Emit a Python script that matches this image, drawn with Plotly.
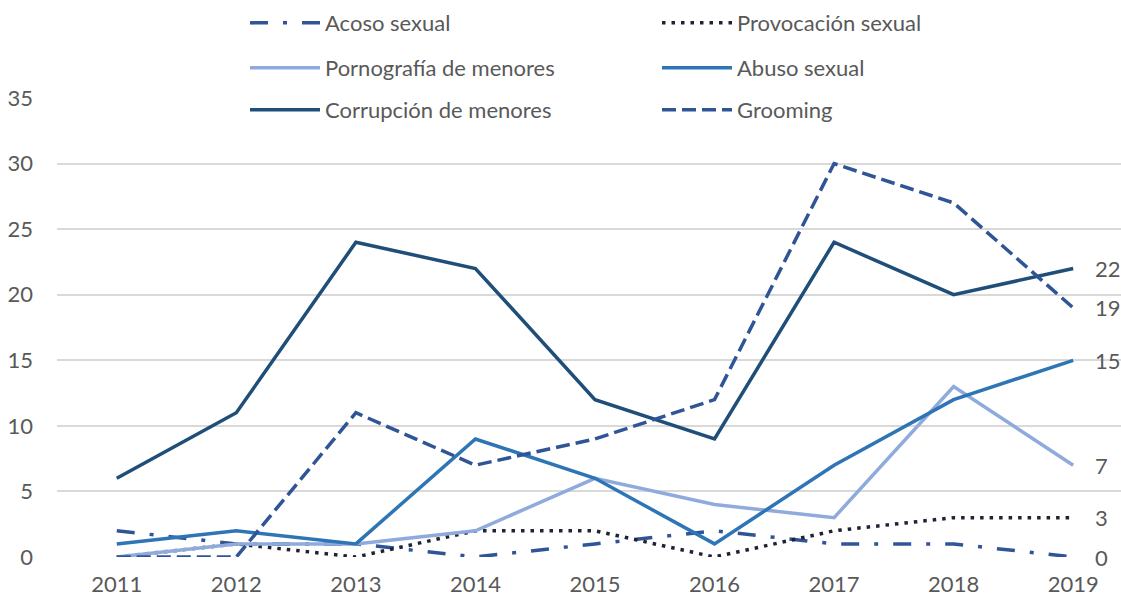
import plotly.graph_objects as go

years = ["2011", "2012", "2013", "2014", "2015", "2016", "2017", "2018", "2019"]
acoso = [2, 1, 1, 0, 1, 2, 1, 1, 0]
provocacion = [0, 1, 0, 2, 2, 0, 2, 3, 3]
pornografia = [0, 1, 1, 2, 6, 4, 3, 13, 7]
abuso = [1, 2, 1, 9, 6, 1, 7, 12, 15]
corrupcion = [6, 11, 24, 22, 12, 9, 24, 20, 22]
grooming = [0, 0, 11, 7, 9, 12, 30, 27, 19]

series = [
    ("Acoso sexual", acoso, "#2F5597", "18px,15px,4px,15px", "legend"),
    ("Provocación sexual", provocacion, "#1E2333", "3.5px,6px", "legend"),
    ("Pornografía de menores", pornografia, "#8FAADC", "solid", "legend2"),
    ("Abuso sexual", abuso, "#2E75B6", "solid", "legend2"),
    ("Corrupción de menores", corrupcion, "#1F4E79", "solid", "legend3"),
    ("Grooming", grooming, "#2F5597", "14px,6px", "legend3"),
]

FONT = "Lato"
GRAY = "#595959"
FS = 22

W, H = 1121, 597
ML, MR, MT, MB = 57, 0, 98, 40
pw = W - ML - MR
ph = H - MT - MB

last_idx = len(years) - 1

fig = go.Figure()
for name, vals, color, dash, leg in series:
    fig.add_trace(go.Scatter(
        x=years, y=vals, name=name, mode="lines",
        line=dict(color=color, width=3.5, dash=dash),
        legend=leg, hoverinfo="x+y+name",
    ))
    # label of the last (2019) value; category axes take the serial index
    fig.add_annotation(
        x=last_idx, y=vals[-1], text=str(vals[-1]), showarrow=False,
        xanchor="left", yanchor="middle", xshift=20,
        font=dict(family=FONT, size=FS, color=GRAY),
    )


def px_x(p):
    return (p - ML) / pw


def cx(p):
    return p / W


def cy(p):
    return 1 - p / H


legend_common = dict(
    orientation="h", xanchor="left", yanchor="middle",
    xref="container", yref="container",
    bgcolor="rgba(0,0,0,0)", font=dict(family=FONT, size=FS, color=GRAY),
    itemwidth=70, entrywidth=327, entrywidthmode="pixels",
    itemclick=False, itemdoubleclick=False,
)

fig.update_layout(
    width=W, height=H,
    margin=dict(l=ML, r=MR, t=MT, b=MB, autoexpand=False),
    paper_bgcolor="white", plot_bgcolor="white",
    font=dict(family=FONT, size=FS, color=GRAY),
    legend=dict(x=cx(245), y=cy(23), **legend_common),
    legend2=dict(x=cx(245), y=cy(68), **legend_common),
    legend3=dict(x=cx(245), y=cy(110), **legend_common),
    xaxis=dict(
        type="category", range=[-0.5, 8.4], showgrid=False, zeroline=False,
        showline=False, ticks="", ticklabelstandoff=12,
        tickfont=dict(family=FONT, size=FS, color=GRAY),
    ),
    yaxis=dict(
        range=[0, 35], dtick=5, tick0=0, showgrid=True, gridcolor="#D9D9D9",
        gridwidth=1.5, zeroline=False, showline=False, ticks="",
        ticklabelstandoff=23,
        tickfont=dict(family=FONT, size=FS, color=GRAY),
    ),
    shapes=[dict(
        type="rect", xref="paper", yref="y", layer="between",
        x0=px_x(197), x1=px_x(1018), y0=34.6, y1=35.4,
        fillcolor="white", line=dict(width=0),
    )],
)

fig.write_html(
    "out.html",
    config={"displayModeBar": False},
    post_script="document.body.style.margin='0';document.body.style.overflow='hidden';",
)
